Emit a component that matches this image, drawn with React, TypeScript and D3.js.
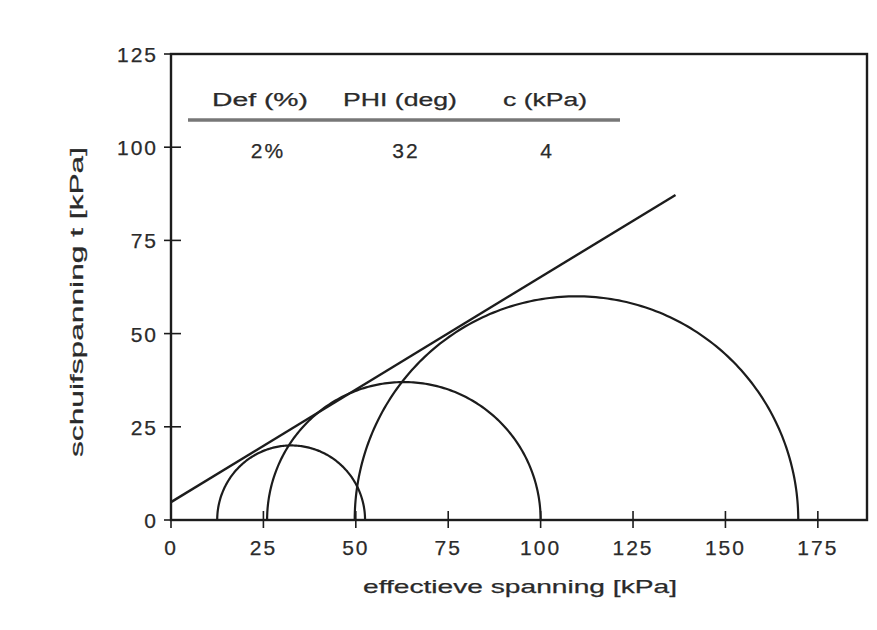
import React from "react";
import * as d3 from "d3";

const xTicks = [0, 25, 50, 75, 100, 125, 150, 175];
const yTicks = [0, 25, 50, 75, 100, 125];
// Mohr circles: [sigma3, sigma1] in kPa
const circleMin = [12.5, 26, 49.7];
const circleMax = [52.5, 100, 169.7];
// failure envelope endpoints [sigma, tau]
const envSigma = [0, 136.5];
const envTau = [4.8, 87.2];
const tableHeaders = ["Def (%)", "PHI (deg)", "c (kPa)"];
const tableValues = ["2%", "32", "4"];

const W = 877;
const H = 630;

export default function App() {
  const x = d3.scaleLinear().domain([0, 188.3]).range([171, 867]);
  const y = d3.scaleLinear().domain([0, 125]).range([520, 54]);
  const [x0, x1] = x.range();
  const [yb, yt] = y.range();

  const line = d3
    .line<[number, number]>()
    .x((d) => x(d[0]))
    .y((d) => y(d[1]));

  const semis = circleMin.map((s3, i) => {
    const s1 = circleMax[i];
    const c = (s1 + s3) / 2;
    const r = (s1 - s3) / 2;
    const pts: [number, number][] = d3
      .range(0, 181)
      .map((a) => [c + r * Math.cos((a * Math.PI) / 180), r * Math.sin((a * Math.PI) / 180)]);
    return line(pts) || "";
  });

  const env = line([
    [envSigma[0], envTau[0]],
    [envSigma[1], envTau[1]],
  ]) || "";

  const stroke = "#1c1c1c";
  const txt = "#2a2a2a";
  const font = "'Liberation Sans', Arial, sans-serif";
  const ts = { stroke: txt, strokeWidth: 0.25 };

  const headerX = [260, 400, 545];
  const headerW = [96, 114, 84];
  const valueX = [268, 406, 547];

  return (
    <svg
      width={W}
      height={H}
      style={{ position: "absolute", left: 0, top: 0, background: "#fff" }}
      fontFamily={font}
    >
      <rect x={0} y={0} width={W} height={H} fill="#fff" />
      {/* frame */}
      <rect
        x={x0}
        y={yt}
        width={x1 - x0}
        height={yb - yt}
        fill="none"
        stroke={stroke}
        strokeWidth={2.4}
      />
      {/* x ticks */}
      {xTicks.map((t) => (
        <g key={"x" + t}>
          <line x1={x(t)} x2={x(t)} y1={yb - 9} y2={yb + 8} stroke={stroke} strokeWidth={1.6} />
          <text
            x={x(t)}
            y={yb + 35}
            textAnchor="middle"
            fontSize={21}
            fill={txt}
            {...ts}
            letterSpacing={2}
          >
            {t}
          </text>
        </g>
      ))}
      {/* y ticks */}
      {yTicks.map((t) => (
        <g key={"y" + t}>
          <line x1={x0 - 7} x2={x0 + 10} y1={y(t)} y2={y(t)} stroke={stroke} strokeWidth={1.6} />
          <text
            x={158}
            y={y(t) + 8}
            textAnchor="end"
            fontSize={21}
            fill={txt}
            {...ts}
            letterSpacing={2}
          >
            {t}
          </text>
        </g>
      ))}
      {/* circles */}
      {semis.map((d, i) => (
        <path key={"c" + i} d={d} fill="none" stroke={stroke} strokeWidth={2.2} />
      ))}
      {/* envelope */}
      <path d={env} fill="none" stroke={stroke} strokeWidth={2.4} />
      {/* table */}
      {tableHeaders.map((h, i) => (
        <text
          key={"h" + i}
          x={headerX[i]}
          y={106}
          textAnchor="middle"
          fontSize={18}
          fill={txt}
          {...ts}
          textLength={headerW[i]}
          lengthAdjust="spacingAndGlyphs"
        >
          {h}
        </text>
      ))}
      <line x1={188} x2={620} y1={120} y2={120} stroke="#777" strokeWidth={3.5} />
      {tableValues.map((v, i) => (
        <text
          key={"v" + i}
          x={valueX[i]}
          y={158}
          textAnchor="middle"
          fontSize={21}
          fill={txt}
          {...ts}
          letterSpacing={2}
        >
          {v}
        </text>
      ))}
      {/* axis titles */}
      <text
        x={520}
        y={593}
        textAnchor="middle"
        fontSize={19}
        fill={txt}
        {...ts}
        textLength={314}
        lengthAdjust="spacingAndGlyphs"
      >
        effectieve spanning [kPa]
      </text>
      <text
        transform={`translate(83,302) rotate(-90)`}
        textAnchor="middle"
        fontSize={19}
        fill={txt}
        {...ts}
        textLength={310}
        lengthAdjust="spacingAndGlyphs"
      >
        schuifspanning t [kPa]
      </text>
    </svg>
  );
}
